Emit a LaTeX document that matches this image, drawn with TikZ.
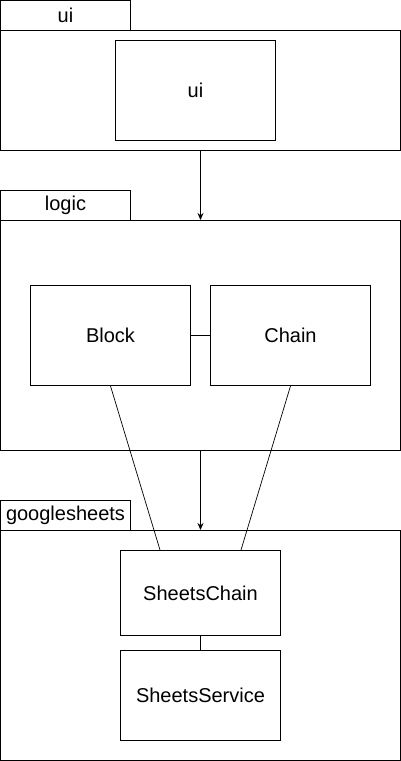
\documentclass[tikz,border=0pt]{standalone}
\usepackage{fontspec}
\setmainfont{Liberation Sans}
\usetikzlibrary{arrows.meta}

\begin{document}
\begin{tikzpicture}[x=1pt,y=1pt,line width=1pt]
        \tikzstyle{every node}+=[inner sep=0pt, font=\fontsize{20}{23}\selectfont]
        \tikzstyle{tab}=[draw, minimum width=130pt, minimum height=30pt]
        \tikzstyle{pkg}=[draw, minimum width=400pt]
        \tikzstyle{cls}=[draw, minimum width=160pt]
        \tikzstyle{dep}=[-{Stealth[length=7pt,width=6pt]}]
        \useasboundingbox (-0.5,0.5) rectangle (400.5,-760.5);
        % ui
        \node [tab] (uitab) at (65,-15) {ui};
        \node [pkg, minimum height=120pt] (uipkg) at (200,-90) {};
        \node [cls, minimum height=100pt] (ui) at (195,-90) {ui};
        % logic
        \node [tab] (logictab) at (65,-205) {logic};
        \node [pkg, minimum height=230pt] (logicpkg) at (200,-335) {};
        \node [cls, minimum height=100pt] (block) at (110,-335) {Block};
        \node [cls, minimum height=100pt] (chain) at (290,-335) {Chain};
        % googlesheets
        \node [tab] (gstab) at (65,-515) {googlesheets};
        \node [pkg, minimum height=230pt] (gspkg) at (200,-645) {};
        \node [cls, minimum height=85pt] (sheetschain) at (200,-592.5) {SheetsChain};
        \node [cls, minimum height=90pt] (sheetsservice) at (200,-695) {SheetsService};
        % links
        \draw [dep] (uipkg.south) -- (logicpkg.north);
        \draw [dep] (logicpkg.south) -- (gspkg.north);
        \draw (block) -- (chain);
        \draw (sheetschain) -- (sheetsservice);
        \draw [line width=0.7pt] (block.south) -- ([xshift=40pt]sheetschain.north west);
        \draw [line width=0.7pt] (chain.south) -- ([xshift=-40pt]sheetschain.north east);
\end{tikzpicture}
\end{document}
